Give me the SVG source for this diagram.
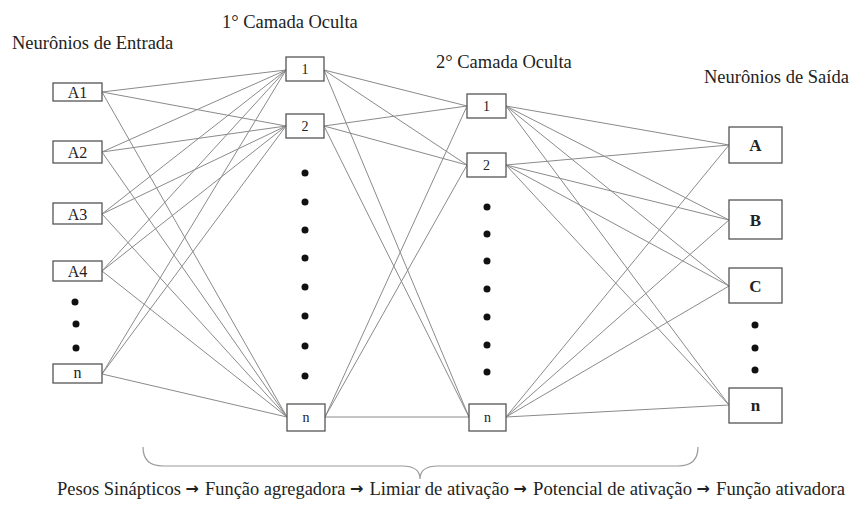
<svg xmlns="http://www.w3.org/2000/svg" width="853" height="517" viewBox="0 0 853 517" font-family="'Liberation Serif', 'DejaVu Serif', serif">
  <style>
    text { font-family: "Liberation Serif", "DejaVu Serif", serif; fill: #222; }
    .title { font-size: 18.5px; }
    .lbl { font-size: 16px; text-anchor: middle; }
    .hlbl { font-size: 14px; text-anchor: middle; }
    .olbl { font-size: 17px; font-weight: bold; text-anchor: middle; }
    .box { fill: #fff; stroke: #555; stroke-width: 1.3; }
    .edges line { stroke: #8a8a8a; stroke-width: 1; }
    .dot { fill: #111; }
    .brace { fill: none; stroke: #999; stroke-width: 1.2; }
    .cap { font-size: 18.8px; }
    .arr { font-family: "DejaVu Sans", sans-serif; font-weight: bold; font-size: 16px; }
  </style>

  <!-- layer titles -->
  <text class="title" x="12" y="49">Neurônios de Entrada</text>
  <text class="title" x="222" y="28">1° Camada Oculta</text>
  <text class="title" x="436" y="68">2° Camada Oculta</text>
  <text class="title" x="704" y="83">Neurônios de Saída</text>

  <!-- connectors: fully connected between consecutive layers -->
  <g id="connectors" class="edges">
    <!-- input -> hidden 1 -->
    <line x1="102" y1="92" x2="286" y2="70"/>
    <line x1="102" y1="92" x2="286" y2="126"/>
    <line x1="102" y1="92" x2="287" y2="417"/>
    <line x1="102" y1="152" x2="286" y2="70"/>
    <line x1="102" y1="152" x2="286" y2="126"/>
    <line x1="102" y1="152" x2="287" y2="417"/>
    <line x1="102" y1="214" x2="286" y2="70"/>
    <line x1="102" y1="214" x2="286" y2="126"/>
    <line x1="102" y1="214" x2="287" y2="417"/>
    <line x1="102" y1="271" x2="286" y2="70"/>
    <line x1="102" y1="271" x2="286" y2="126"/>
    <line x1="102" y1="271" x2="287" y2="417"/>
    <line x1="102" y1="374" x2="286" y2="70"/>
    <line x1="102" y1="374" x2="286" y2="126"/>
    <line x1="102" y1="374" x2="287" y2="417"/>
    <!-- hidden 1 -> hidden 2 -->
    <line x1="324" y1="70" x2="467" y2="106"/>
    <line x1="324" y1="70" x2="467" y2="165"/>
    <line x1="324" y1="70" x2="469" y2="417"/>
    <line x1="324" y1="126" x2="467" y2="106"/>
    <line x1="324" y1="126" x2="467" y2="165"/>
    <line x1="324" y1="126" x2="469" y2="417"/>
    <line x1="325" y1="417" x2="467" y2="106"/>
    <line x1="325" y1="417" x2="467" y2="165"/>
    <line x1="325" y1="417" x2="469" y2="417"/>
    <!-- hidden 2 -> output -->
    <line x1="506" y1="106" x2="729" y2="145"/>
    <line x1="506" y1="106" x2="729" y2="220"/>
    <line x1="506" y1="106" x2="729" y2="286"/>
    <line x1="506" y1="106" x2="729" y2="405"/>
    <line x1="506" y1="165" x2="729" y2="145"/>
    <line x1="506" y1="165" x2="729" y2="220"/>
    <line x1="506" y1="165" x2="729" y2="286"/>
    <line x1="506" y1="165" x2="729" y2="405"/>
    <line x1="506" y1="417" x2="729" y2="145"/>
    <line x1="506" y1="417" x2="729" y2="220"/>
    <line x1="506" y1="417" x2="729" y2="286"/>
    <line x1="506" y1="417" x2="729" y2="405"/>
  </g>

  <!-- input layer -->
  <g id="in-a1"><rect class="box" x="53" y="83" width="49" height="18"/><text class="lbl" x="77.5" y="98">A1</text></g>
  <g id="in-a2"><rect class="box" x="53" y="141" width="49" height="22"/><text class="lbl" x="77.5" y="158">A2</text></g>
  <g id="in-a3"><rect class="box" x="53" y="203" width="49" height="21"/><text class="lbl" x="77.5" y="219.5">A3</text></g>
  <g id="in-a4"><rect class="box" x="53" y="261" width="49" height="20"/><text class="lbl" x="77.5" y="277">A4</text></g>
  <g id="in-dots">
    <circle class="dot" cx="75" cy="302" r="3.5"/>
    <circle class="dot" cx="76" cy="324" r="3.5"/>
    <circle class="dot" cx="76" cy="348" r="3.5"/>
  </g>
  <g id="in-n"><rect class="box" x="53" y="364" width="49" height="19"/><text class="lbl" x="77.5" y="378">n</text></g>

  <!-- hidden layer 1 -->
  <g id="h1-1"><rect class="box" x="286" y="57" width="38" height="24"/><text class="hlbl" x="305" y="74">1</text></g>
  <g id="h1-2"><rect class="box" x="286" y="114" width="38" height="24"/><text class="hlbl" x="305" y="131">2</text></g>
  <g id="h1-dots">
    <circle class="dot" cx="305" cy="173" r="3.5"/>
    <circle class="dot" cx="305" cy="202" r="3.5"/>
    <circle class="dot" cx="305" cy="230" r="3.5"/>
    <circle class="dot" cx="305" cy="258" r="3.5"/>
    <circle class="dot" cx="305" cy="287" r="3.5"/>
    <circle class="dot" cx="305" cy="316" r="3.5"/>
    <circle class="dot" cx="305" cy="346" r="3.5"/>
    <circle class="dot" cx="305" cy="376" r="3.5"/>
  </g>
  <g id="h1-n"><rect class="box" x="287" y="404" width="38" height="27"/><text class="hlbl" x="306" y="422">n</text></g>

  <!-- hidden layer 2 -->
  <g id="h2-1"><rect class="box" x="467" y="94" width="39" height="24"/><text class="hlbl" x="486.5" y="111">1</text></g>
  <g id="h2-2"><rect class="box" x="467" y="153" width="39" height="24"/><text class="hlbl" x="486.5" y="170">2</text></g>
  <g id="h2-dots">
    <circle class="dot" cx="487" cy="207" r="3.5"/>
    <circle class="dot" cx="487" cy="234" r="3.5"/>
    <circle class="dot" cx="487" cy="261" r="3.5"/>
    <circle class="dot" cx="487" cy="289" r="3.5"/>
    <circle class="dot" cx="487" cy="317" r="3.5"/>
    <circle class="dot" cx="487" cy="345" r="3.5"/>
    <circle class="dot" cx="487" cy="372" r="3.5"/>
  </g>
  <g id="h2-n"><rect class="box" x="469" y="404" width="37" height="27"/><text class="hlbl" x="487.5" y="422">n</text></g>

  <!-- output layer -->
  <g id="out-a"><rect class="box" x="729" y="127" width="53" height="36"/><text class="olbl" x="755.5" y="151">A</text></g>
  <g id="out-b"><rect class="box" x="729" y="200" width="53" height="39"/><text class="olbl" x="755.5" y="226">B</text></g>
  <g id="out-c"><rect class="box" x="729" y="268" width="53" height="35"/><text class="olbl" x="755.5" y="292">C</text></g>
  <g id="out-dots">
    <circle class="dot" cx="755" cy="325" r="3.5"/>
    <circle class="dot" cx="755" cy="348" r="3.5"/>
    <circle class="dot" cx="755" cy="370" r="3.5"/>
  </g>
  <g id="out-n"><rect class="box" x="729" y="388" width="53" height="35"/><text class="olbl" x="755.5" y="411">n</text></g>

  <!-- curly brace and processing chain caption -->
  <path class="brace" d="M143,447 Q143,466 163,466 L402,466 Q420,466 420,479 Q420,466 438,466 L678,466 Q698,466 698,447"/>
  <g id="caption">
    <text class="cap" x="57" y="495" textLength="124" lengthAdjust="spacingAndGlyphs">Pesos Sinápticos</text>
    <text class="arr" x="185.5" y="494">→</text>
    <text class="cap" x="205" y="495" textLength="140.5" lengthAdjust="spacingAndGlyphs">Função agregadora</text>
    <text class="arr" x="350" y="494">→</text>
    <text class="cap" x="369.5" y="495" textLength="139.5" lengthAdjust="spacingAndGlyphs">Limiar de ativação</text>
    <text class="arr" x="513.5" y="494">→</text>
    <text class="cap" x="533" y="495" textLength="159" lengthAdjust="spacingAndGlyphs">Potencial de ativação</text>
    <text class="arr" x="696.5" y="494">→</text>
    <text class="cap" x="716" y="495" textLength="129" lengthAdjust="spacingAndGlyphs">Função ativadora</text>
  </g>
</svg>
